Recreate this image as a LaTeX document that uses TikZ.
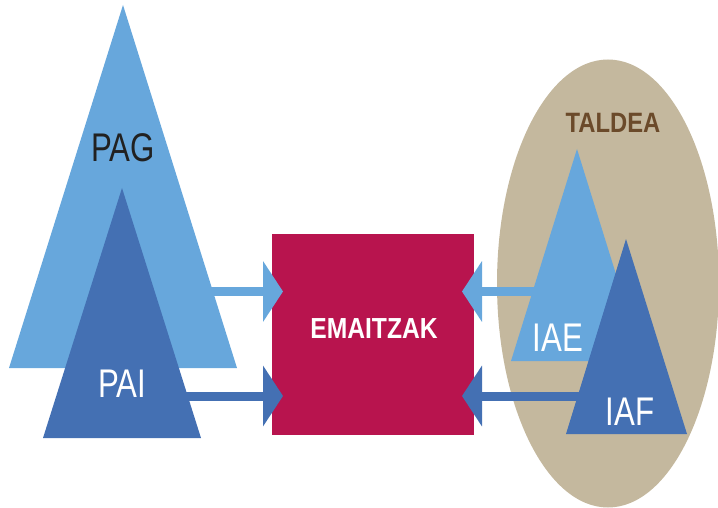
\documentclass[tikz,border=0pt]{standalone}
\usepackage{fontspec}
\setmainfont{Liberation Sans}
\newfontfamily\condreg[FakeStretch=0.78]{Liberation Sans}
\newfontfamily\condbold[FakeStretch=0.85]{Liberation Sans Bold}
\usetikzlibrary{arrows.meta}
\definecolor{lblue}{HTML}{67A7DC}
\definecolor{dblue}{HTML}{4470B3}
\definecolor{crim}{HTML}{B8144E}
\definecolor{beige}{HTML}{C4B89E}
\definecolor{brownt}{HTML}{6B4A2A}
\tikzset{
  bigarrow/.style={line width=9pt, -{Triangle[width=60pt,length=20pt]}},
  lbl/.style={anchor=base, inner sep=0pt, font=\condreg\fontsize{40}{40}\selectfont},
  boldlbl/.style={anchor=base, inner sep=0pt, font=\condbold\fontsize{29}{29}\selectfont, text=white}
}
\begin{document}
\begin{tikzpicture}[x=1pt,y=-1pt]
\useasboundingbox (0,0) rectangle (718,508);
% group ellipse
\fill[beige] (608,283.5) ellipse [x radius=111, y radius=224];
% result box
\node[fill=crim, minimum width=202pt, minimum height=201pt, inner sep=0pt, anchor=north west] (res) at (272,234) {};
\node[boldlbl] (emaitzak) at (374,338) {EMAITZAK};
% arrow endpoints
\coordinate (pagout) at (200,291.5);
\coordinate (paiout) at (180,396);
\coordinate (iaeout) at (545,291.5);
\coordinate (iafout) at (600,396);
\coordinate (resinL1) at (283,291.5);
\coordinate (resinL2) at (283,396);
\coordinate (resinR1) at (462,291.5);
\coordinate (resinR2) at (462,396);
\draw[bigarrow, lblue] (pagout) -- (resinL1);
\draw[bigarrow, dblue] (paiout) -- (resinL2);
\draw[bigarrow, lblue] (iaeout) -- (resinR1);
\draw[bigarrow, dblue] (iafout) -- (resinR2);
% triangles
\fill[lblue] (123,5) -- (237,368) -- (9,368) -- cycle;
\fill[dblue] (122,188) -- (201,438) -- (43,438) -- cycle;
\fill[lblue] (577,149) -- (643,361) -- (511,361) -- cycle;
\fill[dblue] (626,239) -- (687,434) -- (566,434) -- cycle;
% labels
\node[lbl, text=black!87] (pag) at (123,162) {PAG};
\node[lbl, text=white] (pai) at (122,397) {PAI};
\node[lbl, text=white] (iae) at (558,351) {IAE};
\node[lbl, text=white] (iaf) at (630,425) {IAF};
\node[boldlbl, text=brownt, font=\condbold\fontsize{28}{28}\selectfont] (taldea) at (613,133) {TALDEA};
\end{tikzpicture}
\end{document}
